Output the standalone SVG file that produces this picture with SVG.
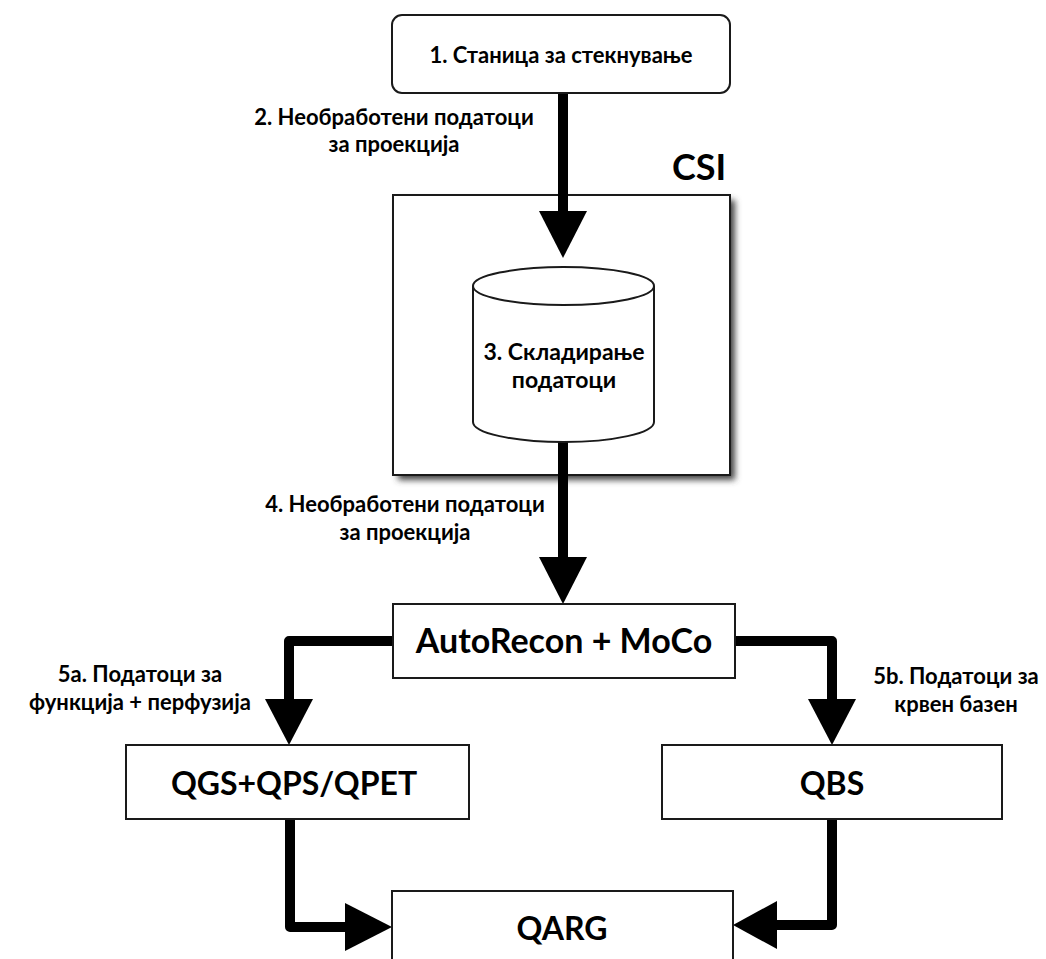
<svg xmlns="http://www.w3.org/2000/svg" width="1046" height="959" viewBox="0 0 1046 959">
<defs>
<filter id="sh" x="-10%" y="-10%" width="130%" height="130%"><feGaussianBlur stdDeviation="3"/></filter>
</defs>
<style>
.box{fill:#fff;stroke:#1a1a1a;stroke-width:2}
.t{font-family:Lato,"Noto Sans",sans-serif;font-weight:bold;fill:#000;text-anchor:middle}
.lbl{font-size:22px}
.big{font-size:34px}
.conn{fill:none;stroke:#000;stroke-width:10;stroke-linejoin:round}
.head{fill:#000}
</style>
<rect width="1046" height="959" fill="#fff"/>
<g id="csi">
<rect x="398" y="200" width="337" height="280" fill="#444" filter="url(#sh)"/>
<rect class="box" x="393" y="195" width="337" height="280"/>
<text class="t" x="699" y="180" style="font-size:36px">CSI</text>
</g>
<g id="connectors">
<line class="conn" x1="563" y1="93" x2="563" y2="214"/>
<polygon class="head" points="539,211 587,211 563,258"/>
<line class="conn" x1="563" y1="442" x2="563" y2="560"/>
<polygon class="head" points="539,557 587,557 563,604"/>
<path class="conn" d="M393,641 H289 V702"/>
<polygon class="head" points="265,699 313,699 289,745"/>
<path class="conn" d="M735,641 H832 V702"/>
<polygon class="head" points="808,699 856,699 832,745"/>
<path class="conn" d="M290,819 V927 H347"/>
<polygon class="head" points="345,903 345,951 392,927"/>
<path class="conn" d="M832,819 V925 H775"/>
<polygon class="head" points="777,901 777,949 733,925"/>
<text class="t lbl" x="394" y="125">2. Необработени податоци</text>
<text class="t lbl" x="394" y="152">за проекција</text>
<text class="t lbl" x="405" y="512">4. Необработени податоци</text>
<text class="t lbl" x="405" y="540">за проекција</text>
<text class="t lbl" x="140" y="682">5a. Податоци за</text>
<text class="t lbl" x="140" y="710">функција + перфузија</text>
<text class="t lbl" x="956" y="684">5b. Податоци за</text>
<text class="t lbl" x="956" y="712">крвен базен</text>
</g>
<g id="n1">
<rect class="box" x="392" y="15" width="338" height="78" rx="10"/>
<text class="t lbl" x="561" y="63">1. Станица за стекнување</text>
</g>
<g id="n3">
<path class="box" d="M473,286 V422 A90.5,20 0 0 0 654,422 V286"/>
<ellipse class="box" cx="563.5" cy="286" rx="90.5" ry="19"/>
<text class="t" x="564" y="360" style="font-size:23px">3. Складирање</text>
<text class="t" x="564" y="388" style="font-size:23px">податоци</text>
</g>
<g id="n4">
<rect class="box" x="393" y="604" width="342" height="74"/>
<text class="t big" x="564" y="653">AutoRecon + MoCo</text>
</g>
<g id="n5a">
<rect class="box" x="126" y="745" width="343" height="74"/>
<text class="t" x="294" y="795" style="font-size:32px">QGS+QPS/QPET</text>
</g>
<g id="n5b">
<rect class="box" x="662" y="745" width="340" height="74"/>
<text class="t" x="832" y="795" style="font-size:32px">QBS</text>
</g>
<g id="n6">
<rect class="box" x="392" y="891" width="341" height="100"/>
<text class="t" x="562" y="940" style="font-size:32px">QARG</text>
</g>
</svg>
